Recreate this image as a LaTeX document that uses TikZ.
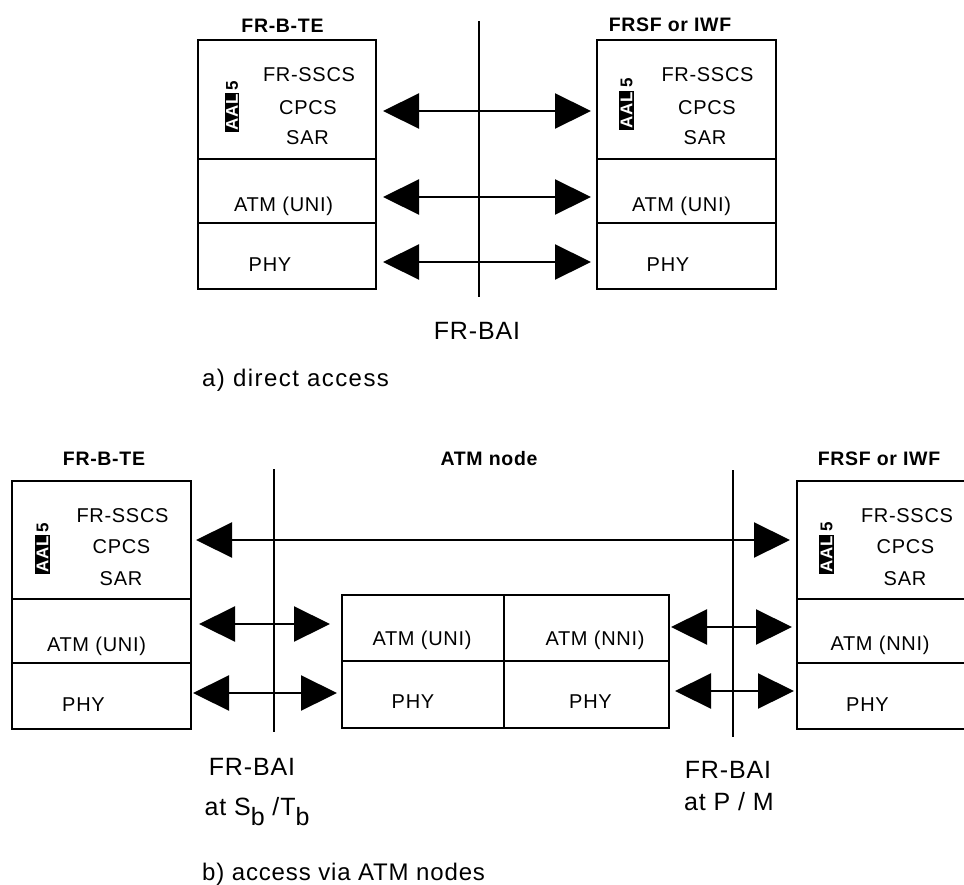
\documentclass[tikz,border=0pt]{standalone}
\usepackage{fontspec}
\setmainfont{Liberation Sans}[LetterSpace=3.5]
\usetikzlibrary{arrows.meta,calc}
\tikzset{
  layer/.style={draw, line width=2pt, inner sep=0pt, outer sep=0pt, anchor=north west},
  lbl/.style={anchor=base, inner sep=0pt, font=\fontsize{20}{24}\selectfont},
  head/.style={anchor=base, inner sep=0pt, font=\bfseries\fontsize{19.5}{23}\selectfont},
  big/.style={anchor=base, inner sep=0pt, font=\fontsize{25}{30}\selectfont},
  capt/.style={anchor=base west, inner sep=0pt, font=\fontsize{24}{28}\selectfont},
  dbl/.style={line width=2.2pt, {Triangle[length=36pt,width=35pt]}-{Triangle[length=36pt,width=35pt]}},
  bai/.style={line width=2pt},
  aal/.style={rotate=90, inner sep=0pt, font=\bfseries\fontsize{17}{17}\selectfont}
}
\newcommand{\aaltxt}{{\setlength\fboxsep{1.5pt}\colorbox{black}{\textcolor{white}{AAL}}\,5}}
\begin{document}
\begin{tikzpicture}[x=1pt,y=-1pt]
\useasboundingbox (0,0) rectangle (964,884);
% ---------- a) direct access ----------
\node[layer, minimum width=178pt, minimum height=119pt] (Laal) at (198,40) {};
\node[layer, minimum width=178pt, minimum height=64pt] (Latm) at (198,159) {};
\node[layer, minimum width=178pt, minimum height=66pt] (Lphy) at (198,223) {};
\node[layer, minimum width=179pt, minimum height=119pt] (Raal) at (597,40) {};
\node[layer, minimum width=179pt, minimum height=64pt] (Ratm) at (597,159) {};
\node[layer, minimum width=179pt, minimum height=66pt] (Rphy) at (597,223) {};
\node[head] (hL) at (282.5,32) {FR-B-TE};
\node[head] (hR) at (670,31) {FRSF or IWF};
\node[lbl] (t1) at (309,81) {FR-SSCS};
\node[lbl] (t2) at (308,114) {CPCS};
\node[lbl] (t3) at (307.5,144) {SAR};
\node[lbl] (t4) at (283.5,211) {ATM (UNI)};
\node[lbl] (t5) at (270,271) {PHY};
\node[aal] (a1) at (232,106.5) {\aaltxt};
\node[lbl] (u1) at (707.5,81) {FR-SSCS};
\node[lbl] (u2) at (707,114) {CPCS};
\node[lbl] (u3) at (705,144) {SAR};
\node[lbl] (u4) at (681.5,211) {ATM (UNI)};
\node[lbl] (u5) at (668,271) {PHY};
\node[aal] (a2) at (626.5,104) {\aaltxt};
\coordinate (v1t) at (479,21);
\coordinate (v1b) at (479,297);
\draw[bai] (v1t) -- (v1b);
\draw[dbl] ($(Laal.east |- 0,111)+(7,0)$) -- ($(Raal.west |- 0,111)+(-6,0)$);
\draw[dbl] ($(Latm.east |- 0,197)+(7,0)$) -- ($(Ratm.west |- 0,197)+(-6,0)$);
\draw[dbl] ($(Lphy.east |- 0,262)+(7,0)$) -- ($(Rphy.west |- 0,262)+(-6,0)$);
\node[big] (bai1) at (477,339) {FR-BAI};
\node[capt, font=\addfontfeature{LetterSpace=6}\fontsize{24}{28}\selectfont] (ca) at (202,386) {a) direct access};
% ---------- b) access via ATM nodes ----------
\node[layer, minimum width=179pt, minimum height=118pt] (BLaal) at (12,481) {};
\node[layer, minimum width=179pt, minimum height=64pt] (BLatm) at (12,599) {};
\node[layer, minimum width=179pt, minimum height=66pt] (BLphy) at (12,663) {};
\node[layer, minimum width=162pt, minimum height=66pt] (MAu) at (342,595) {};
\node[layer, minimum width=165pt, minimum height=66pt] (MAn) at (504,595) {};
\node[layer, minimum width=162pt, minimum height=67pt] (MPu) at (342,661) {};
\node[layer, minimum width=165pt, minimum height=67pt] (MPn) at (504,661) {};
\node[layer, minimum width=172pt, minimum height=118pt] (BRaal) at (797,481) {};
\node[layer, minimum width=172pt, minimum height=64pt] (BRatm) at (797,599) {};
\node[layer, minimum width=172pt, minimum height=66pt] (BRphy) at (797,663) {};
\node[head] (hBL) at (104,465) {FR-B-TE};
\node[head] (hBM) at (489,465) {ATM node};
\node[head] (hBR) at (879,465) {FRSF or IWF};
\node[lbl] (p1) at (122.5,522) {FR-SSCS};
\node[lbl] (p2) at (121.5,553) {CPCS};
\node[lbl] (p3) at (121,585) {SAR};
\node[lbl] (p4) at (96.5,651) {ATM (UNI)};
\node[lbl] (p5) at (83.5,711) {PHY};
\node[aal] (a3) at (42.5,548.5) {\aaltxt};
\node[lbl] (m1) at (422,645) {ATM (UNI)};
\node[lbl] (m2) at (595,645) {ATM (NNI)};
\node[lbl] (m3) at (413,708) {PHY};
\node[lbl] (m4) at (590.5,708) {PHY};
\node[lbl] (q1) at (907,522) {FR-SSCS};
\node[lbl] (q2) at (905.5,553) {CPCS};
\node[lbl] (q3) at (905,585) {SAR};
\node[lbl] (q4) at (880,650) {ATM (NNI)};
\node[lbl] (q5) at (867.5,711) {PHY};
\node[aal] (a4) at (826.5,548) {\aaltxt};
\coordinate (v2t) at (274,469);
\coordinate (v2b) at (274,732);
\coordinate (v3t) at (733,470);
\coordinate (v3b) at (733,737);
\draw[bai] (v2t) -- (v2b);
\draw[bai] (v3t) -- (v3b);
\draw[dbl] ($(BLaal.east |- 0,540)+(5,0)$) -- ($(BRaal.west |- 0,540)+(-7,0)$);
\draw[dbl] ($(BLatm.east |- 0,624)+(8,0)$) -- ($(MAu.west |- 0,624)+(-12,0)$);
\draw[dbl] ($(BLphy.east |- 0,693)+(2,0)$) -- ($(MPu.west |- 0,693)+(-5,0)$);
\draw[dbl] ($(MAn.east |- 0,627)+(2,0)$) -- ($(BRatm.west |- 0,627)+(-5,0)$);
\draw[dbl] ($(MPn.east |- 0,691)+(6,0)$) -- ($(BRphy.west |- 0,691)+(-3,0)$);
\node[big] (bai2) at (252,775) {FR-BAI};
\node[big] (st) at (257,815) {at S\raisebox{-0.4em}{b} /T\raisebox{-0.4em}{b}};
\node[big] (bai3) at (728,778) {FR-BAI};
\node[big] (pm) at (729,810) {at P / M};
\node[capt] (cb) at (202,880) {b) access via ATM nodes};
\end{tikzpicture}
\end{document}
